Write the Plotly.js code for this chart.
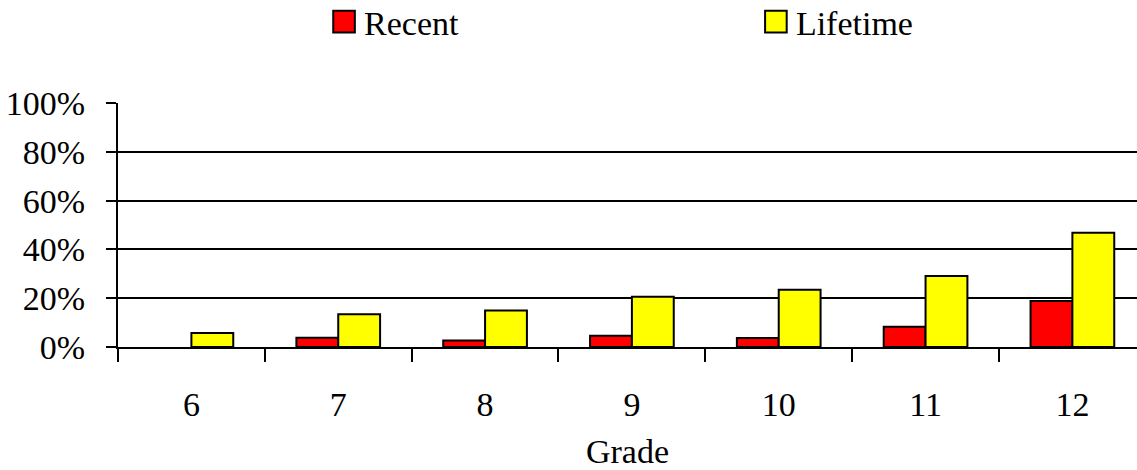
<!DOCTYPE html>
<html>
<head>
<meta charset="utf-8">
<script src="https://cdn.plot.ly/plotly-3.0.1.min.js"></script>
<style>
html,body{margin:0;padding:0;background:#fff;}
#chart{width:1137px;height:470px;}
</style>
</head>
<body>
<div id="chart"></div>
<script>
var grades = ["6", "7", "8", "9", "10", "11", "12"];
var recent = [null, 3.8, 2.7, 4.6, 3.7, 8.3, 18.9];
var lifetime = [5.7, 13.4, 15.0, 20.6, 23.5, 29.1, 46.8];
var yTickVals = [0, 20, 40, 60, 80, 100];
var yTickText = ["0%", "20%", "40%", "60%", "80%", "100%"];

var font = {family: "Liberation Serif", size: 34, color: "#000"};

var traces = [
  {type: "bar", name: "Recent", x: grades, y: recent, legend: "legend",
   marker: {color: "#ff0000", line: {color: "#000", width: 2}}},
  {type: "bar", name: "Lifetime", x: grades, y: lifetime, legend: "legend2",
   marker: {color: "#ffff00", line: {color: "#000", width: 2}}}
];

var layout = {
  width: 1137, height: 470,
  margin: {l: 118, r: 0, t: 103, b: 123, autoexpand: false},
  paper_bgcolor: "#fff", plot_bgcolor: "#fff",
  font: font,
  barmode: "group", bargap: 0.43, bargroupgap: 0,
  showlegend: true,
  legend: {orientation: "h", x: 0.2022, xanchor: "left", y: 1.332, yanchor: "middle",
           font: font, bgcolor: "rgba(0,0,0,0)"},
  legend2: {orientation: "h", x: 0.626, xanchor: "left", y: 1.332, yanchor: "middle",
           font: font, bgcolor: "rgba(0,0,0,0)"},
  xaxis: {type: "category", range: [-0.5, 6.44], tickson: "boundaries",
          ticks: "outside", ticklen: 13, tickwidth: 2, tickcolor: "#000",
          showline: true, linecolor: "#000", linewidth: 2, showgrid: false,
          ticklabelstandoff: 26,
          title: {text: "Grade", font: font, standoff: 22}},
  yaxis: {range: [0, 100], tickvals: yTickVals, ticktext: yTickText,
          ticks: "outside", ticklen: 10, tickwidth: 2, tickcolor: "#000",
          showline: true, linecolor: "#000", linewidth: 2,
          showgrid: true, gridcolor: "#000", gridwidth: 2, zeroline: false,
          ticklabelstandoff: 14}
};

Plotly.newPlot("chart", traces, layout, {displayModeBar: false, staticPlot: true}).then(function (gd) {
  var paths = gd.querySelectorAll(".legendpoints path");
  paths.forEach(function (p) {
    var t = p.getAttribute("transform") || "";
    p.setAttribute("transform", (t + " scale(1.8)").trim());
    p.style.strokeWidth = (2 / 1.8) + "px";
  });
});
</script>
</body>
</html>
